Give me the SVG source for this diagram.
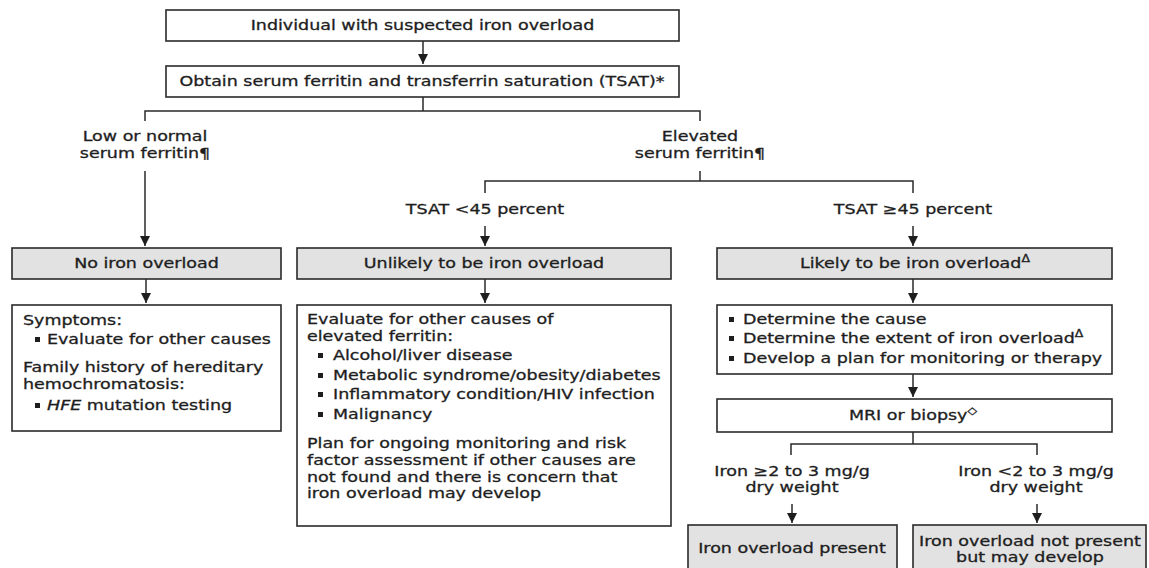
<svg xmlns="http://www.w3.org/2000/svg" width="1149" height="568" viewBox="0 0 1149 568">
<style>
.t{font-family:"DejaVu Sans",Verdana,sans-serif;font-size:14px;fill:#1e1e1e;stroke:#1e1e1e;stroke-width:0.3}
.m{text-anchor:middle}
.box{fill:#fff;stroke:#2a2a2a;stroke-width:1.6}
.gray{fill:#e2e2e2}
.ln{fill:none;stroke:#2a2a2a;stroke-width:1.5}
.sup{font-size:10px}
.b{fill:#1e1e1e}
</style>
<defs>
<marker id="ah" markerUnits="userSpaceOnUse" markerWidth="10" markerHeight="10" refX="10" refY="5" orient="auto">
<path d="M0,0 L10,5 L0,10 z" fill="#1e1e1e"/>
</marker>
</defs>
<rect width="1149" height="568" fill="#fff"/>

<g id="connectors">
<path class="ln" d="M423,41 V64" marker-end="url(#ah)"/>
<path class="ln" d="M423,97 V111 M145,121 V111 H700 V121"/>
<path class="ln" d="M145,171 V246" marker-end="url(#ah)"/>
<path class="ln" d="M700,171 V181 M485,193 V181 H913 V193"/>
<path class="ln" d="M485,226 V246" marker-end="url(#ah)"/>
<path class="ln" d="M913,226 V246" marker-end="url(#ah)"/>
<path class="ln" d="M146,279 V303" marker-end="url(#ah)"/>
<path class="ln" d="M485,279 V303" marker-end="url(#ah)"/>
<path class="ln" d="M913,279 V303" marker-end="url(#ah)"/>
<path class="ln" d="M913,374 V397" marker-end="url(#ah)"/>
<path class="ln" d="M913,432 V444 M791,455 V444 H1037 V455"/>
<path class="ln" d="M792,504 V523" marker-end="url(#ah)"/>
<path class="ln" d="M1037,504 V523" marker-end="url(#ah)"/>
<g class="t m">
<text transform="scale(1.25 1)" x="116" y="141">Low or normal</text>
<text transform="scale(1.25 1)" x="116" y="158">serum ferritin¶</text>
<text transform="scale(1.25 1)" x="560" y="141">Elevated</text>
<text transform="scale(1.25 1)" x="560" y="158">serum ferritin¶</text>
<text transform="scale(1.25 1)" x="388" y="214">TSAT &lt;45 percent</text>
<text transform="scale(1.25 1)" x="730.4" y="214">TSAT ≥45 percent</text>
<text transform="scale(1.25 1)" x="633.6" y="476">Iron ≥2 to 3 mg/g</text>
<text transform="scale(1.25 1)" x="633.6" y="492">dry weight</text>
<text transform="scale(1.25 1)" x="828.8" y="476">Iron &lt;2 to 3 mg/g</text>
<text transform="scale(1.25 1)" x="828.8" y="492">dry weight</text>
</g>
</g>

<g id="n1">
<rect class="box" x="166" y="10" width="513" height="31"/>
<text class="t m" transform="scale(1.25 1)" x="338" y="30">Individual with suspected iron overload</text>
</g>
<g id="n2">
<rect class="box" x="166" y="66" width="513" height="31"/>
<text class="t m" transform="scale(1.25 1)" x="337.6" y="86">Obtain serum ferritin and transferrin saturation (TSAT)*</text>
</g>
<g id="n3">
<rect class="box gray" x="12" y="248" width="269" height="31"/>
<text class="t m" transform="scale(1.25 1)" x="117.2" y="268">No iron overload</text>
</g>
<g id="n4">
<rect class="box gray" x="297" y="248" width="374" height="31"/>
<text class="t m" transform="scale(1.25 1)" x="387.2" y="268">Unlikely to be iron overload</text>
</g>
<g id="n5">
<rect class="box gray" x="717" y="248" width="395" height="31"/>
<text class="t m" transform="scale(1.25 1)" x="732" y="268">Likely to be iron overload<tspan class="sup" dy="-6">Δ</tspan></text>
</g>
<g id="n6">
<rect class="box" x="12" y="305" width="269" height="126"/>
<g class="t">
<text transform="scale(1.25 1)" x="18.4" y="325">Symptoms:</text>
<text transform="scale(1.25 1)" x="37.6" y="344">Evaluate for other causes</text>
<text transform="scale(1.25 1)" x="18.4" y="372">Family history of hereditary</text>
<text transform="scale(1.25 1)" x="18.4" y="389">hemochromatosis:</text>
<text transform="scale(1.25 1)" x="37.6" y="410"><tspan font-style="italic">HFE</tspan> mutation testing</text>
</g>
<rect class="b" x="35" y="337" width="5" height="5"/>
<rect class="b" x="35" y="403" width="5" height="5"/>
</g>
<g id="n7">
<rect class="box" x="297" y="305" width="374" height="221"/>
<g class="t">
<text transform="scale(1.25 1)" x="245.6" y="324">Evaluate for other causes of</text>
<text transform="scale(1.25 1)" x="245.6" y="341">elevated ferritin:</text>
<text transform="scale(1.25 1)" x="266.4" y="360">Alcohol/liver disease</text>
<text transform="scale(1.25 1)" x="266.4" y="380">Metabolic syndrome/obesity/diabetes</text>
<text transform="scale(1.25 1)" x="266.4" y="399">Inflammatory condition/HIV infection</text>
<text transform="scale(1.25 1)" x="266.4" y="419">Malignancy</text>
<text transform="scale(1.25 1)" x="245.6" y="448">Plan for ongoing monitoring and risk</text>
<text transform="scale(1.25 1)" x="245.6" y="465">factor assessment if other causes are</text>
<text transform="scale(1.25 1)" x="245.6" y="482">not found and there is concern that</text>
<text transform="scale(1.25 1)" x="245.6" y="498">iron overload may develop</text>
</g>
<rect class="b" x="318" y="353" width="5" height="5"/>
<rect class="b" x="318" y="373" width="5" height="5"/>
<rect class="b" x="318" y="392" width="5" height="5"/>
<rect class="b" x="318" y="412" width="5" height="5"/>
</g>
<g id="n8">
<rect class="box" x="717" y="305" width="395" height="69"/>
<g class="t">
<text transform="scale(1.25 1)" x="594.4" y="324">Determine the cause</text>
<text transform="scale(1.25 1)" x="594.4" y="343">Determine the extent of iron overload<tspan class="sup" dy="-6">Δ</tspan></text>
<text transform="scale(1.25 1)" x="594.4" y="363">Develop a plan for monitoring or therapy</text>
</g>
<rect class="b" x="729" y="317" width="5" height="5"/>
<rect class="b" x="729" y="336" width="5" height="5"/>
<rect class="b" x="729" y="356" width="5" height="5"/>
</g>
<g id="n9">
<rect class="box" x="717" y="399" width="395" height="33"/>
<text class="t m" transform="scale(1.25 1)" x="730.4" y="420">MRI or biopsy<tspan class="sup" dy="-6">◇</tspan></text>
</g>
<g id="n10">
<rect class="box gray" x="688" y="525" width="209" height="60"/>
<text class="t m" transform="scale(1.25 1)" x="633.6" y="553">Iron overload present</text>
</g>
<g id="n11">
<rect class="box gray" x="913" y="525" width="233" height="60"/>
<text class="t m" transform="scale(1.25 1)" x="824" y="546">Iron overload not present</text>
<text class="t m" transform="scale(1.25 1)" x="824" y="562">but may develop</text>
</g>
</svg>
